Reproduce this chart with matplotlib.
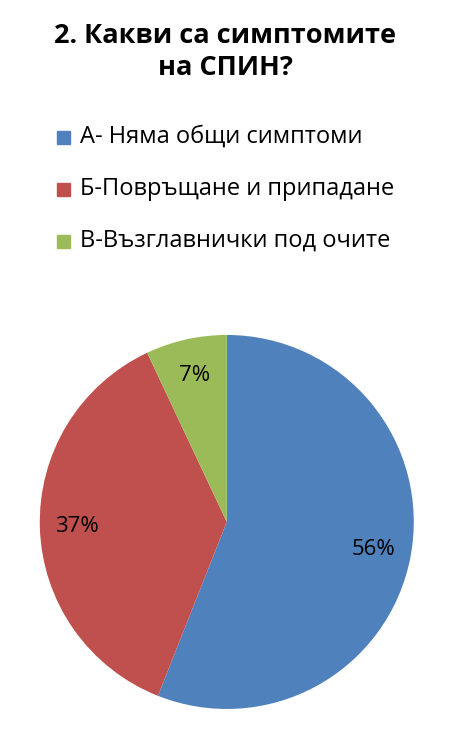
import matplotlib
matplotlib.use("Agg")
import matplotlib.pyplot as plt
from matplotlib.patches import Rectangle

labels = ["А- Няма общи симптоми", "Б-Повръщане и припадане", "В-Възглавнички под очите"]
values = [56, 37, 7]
colors = ["#4F81BD", "#C0504D", "#9BBB59"]
plt.rcParams['font.family'] = ['Open Sans', 'DejaVu Sans']

fig = plt.figure(figsize=(4.5, 7.5), dpi=100)
fig.text(0.5, 1 - 52/750, "2. Какви са симптомите\nна СПИН?", ha='center', va='center',
         fontsize=19.5, fontweight='bold', linespacing=1.3)

ys = [137, 189, 241]
for lab, c, y in zip(labels, colors, ys):
    fig.patches.append(Rectangle((57/450, 1 - (y + 7)/750), 13/450, 13/750,
                                 transform=fig.transFigure, color=c))
    fig.text(80/450, 1 - y/750, lab, ha='left', va='center', fontsize=17)

ax = fig.add_axes([0.504 - 0.4156, 0.304 - 0.2493, 0.8311, 0.4987])
wedges, texts, autotexts = ax.pie(values, colors=colors, startangle=90, counterclock=False,
                                  autopct='%d%%', pctdistance=0.8,
                                  textprops=dict(fontsize=16))
ax.set_xlim(-1, 1)
ax.set_ylim(-1, 1)
ax.set_aspect('equal')
fig.savefig("out.png", dpi=100)
